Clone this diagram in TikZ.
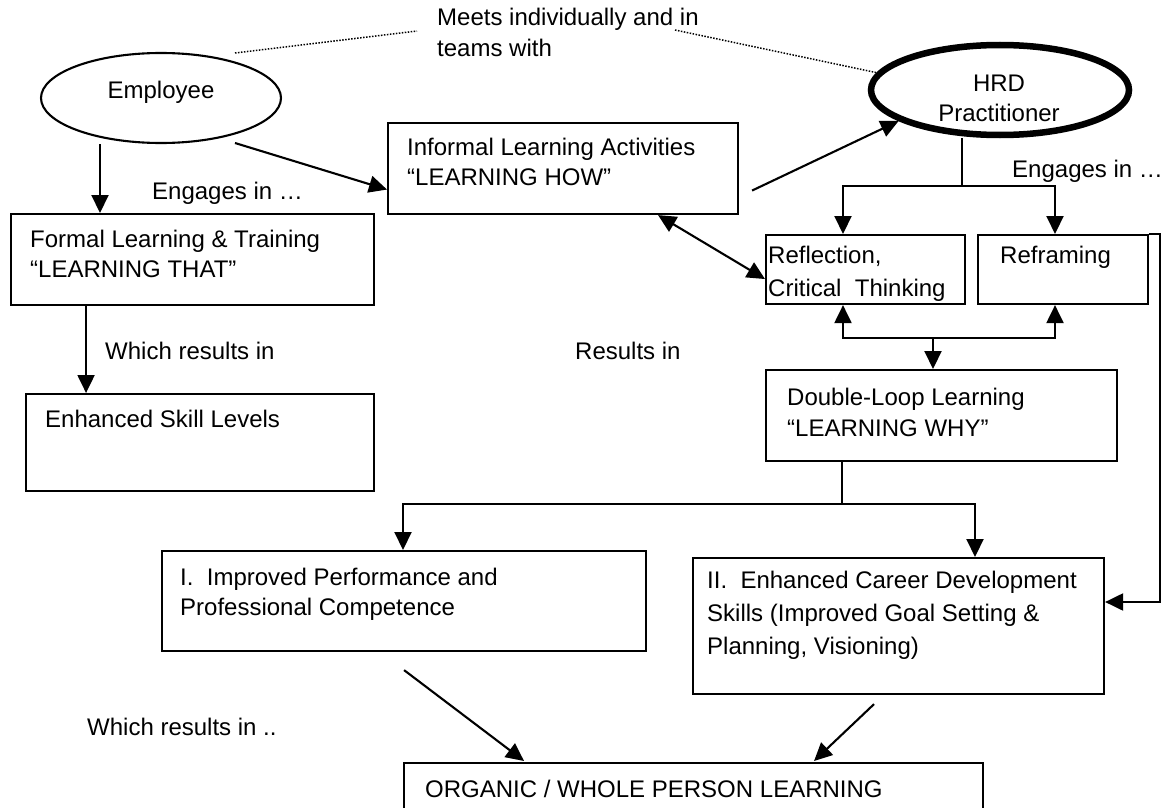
\documentclass[tikz,border=0pt]{standalone}
\usepackage{fontspec}
\setmainfont{Liberation Sans}
\usetikzlibrary{arrows.meta,shapes.geometric}
\newcommand\mylines[1]{\begin{tabular}[t]{@{}l@{}}#1\end{tabular}}
\newcommand\mylinesc[1]{\begin{tabular}[t]{@{}c@{}}#1\end{tabular}}
\begin{document}
\begin{tikzpicture}[x=1pt,y=-1pt,
  every node/.style={font=\fontsize{24}{31}\selectfont, inner sep=0pt},
  box/.style={draw, line width=2.1pt, rectangle, anchor=north west},
  txt/.style={anchor=base west},
  arr/.style={line width=2.1pt, -{Triangle[length=18pt,width=17pt]}},
  dblarr/.style={line width=2.1pt, {Triangle[length=18pt,width=17pt]}-{Triangle[length=18pt,width=17pt]}},
  dotline/.style={line width=1.5pt, dash pattern=on 1.5pt off 1.5pt},
  ln/.style={line width=2.1pt}]
\useasboundingbox (0,0) rectangle (1167,808);
\clip (0,0) rectangle (1167,808);

% ellipses
\node[draw, ellipse, line width=2.1pt, minimum width=240pt, minimum height=90pt] (emp) at (161,98) {};
\node[draw, ellipse, line width=6.5pt, minimum width=258pt, minimum height=90pt] (hrd) at (1000,90) {};

% boxes
\node[box, minimum width=350pt, minimum height=91pt] (inf) at (387,122) {};
\node[box, minimum width=363pt, minimum height=91pt] (form) at (10,213) {};
\node[box, minimum width=348pt, minimum height=97pt] (skill) at (25,393) {};
\node[box, minimum width=199pt, minimum height=69pt] (refl) at (765,234) {};
\node[box, minimum width=170pt, minimum height=69pt] (refr) at (977,234) {};
\node[box, minimum width=351pt, minimum height=91pt] (dbl) at (765,369) {};
\node[box, minimum width=484pt, minimum height=100pt] (perf) at (161,550) {};
\node[box, minimum width=411pt, minimum height=136pt] (car) at (692,557) {};
\node[box, minimum width=579pt, minimum height=70pt] (org) at (403,762) {};

% texts
\node[txt] (tmeets) at (437,26) {\mylines{Meets individually and in\\teams with}};
\node[anchor=base] (temp) at (161,99) {Employee};
\node[anchor=base] (thrd) at (999,92) {\mylinesc{HRD\\[-1pt]Practitioner}};
\node[txt] (tinf) at (407,155) {\mylines{Informal Learning Activities\\[-1pt]“LEARNING HOW”}};
\node[txt] (teng1) at (152,199) {Engages in …};
\node[txt] (tform) at (30,247) {\mylines{Formal Learning \& Training\\[-1pt]“LEARNING THAT”}};
\node[txt] (twhich1) at (105,359) {Which results in};
\node[txt] (tres) at (575,359) {Results in};
\node[txt] (tskill) at (45,427) {Enhanced Skill Levels};
\node[txt] (teng2) at (1012,177) {Engages in …};
\node[txt] (trefl) at (768,263) {\mylines{Reflection,\\[2pt]Critical\ \ Thinking}};
\node[txt] (trefr) at (1000,263) {Reframing};
\node[txt] (tdbl) at (787,405) {\mylines{Double-Loop Learning\\“LEARNING WHY”}};
\node[txt] (tperf) at (180,585) {\mylines{I.\ \ Improved Performance and\\[-1pt]Professional Competence}};
\node[txt] (tcar) at (707,588) {\mylines{II.\ \ Enhanced Career Development\\[2pt]Skills (Improved Goal Setting \&\\[2pt]Planning, Visioning)}};
\node[txt] (twhich2) at (87,735) {Which results in ..};
\node[txt] (torg) at (425,797) {ORGANIC / WHOLE PERSON LEARNING};

% helper coordinates
\coordinate (m1) at (417,31);
\coordinate (m2) at (675,30);
\coordinate (xa) at (843,0);
\coordinate (xb) at (1055,0);
\coordinate (xc) at (403,0);
\coordinate (xd) at (975,0);
\coordinate (j1) at (962,186);
\coordinate (j2) at (933,338);
\coordinate (j3) at (842,504);
\coordinate (j4) at (1160,602);

% dotted lines
\draw[dotline] ([shift={(74,-45)}]emp.center) -- (m1);
\draw[dotline] (m2) -- (hrd.172);

% connectors
\draw[arr] ([xshift=-61pt]emp.south) -- ([xshift=-61pt]emp.south |- form.north);
\draw[arr] ([shift={(74,45)}]emp.center) -- ([yshift=-21pt]inf.west);
\draw[arr] ([shift={(13,22)}]inf.east) -- (hrd.197);
\draw[arr] ([xshift=-106.5pt]form.south) -- ([xshift=-106.5pt]form.south |- skill.north);
\draw[dblarr] ([xshift=95pt]inf.south) -- ([yshift=-9.5pt]refl.west);
\draw[ln] (hrd.south -| j1) -- (j1);
\draw[arr] (j1) -| (xa |- refl.north);
\draw[arr] (j1) -| (xb |- refr.north);
\draw[arr] (j2) -| (xa |- refl.south);
\draw[arr] (j2) -| (xb |- refr.south);
\draw[arr] (j2) -- (j2 |- dbl.north);
\draw[ln] (dbl.south -| j3) -- (j3);
\draw[arr] (j3) -| (xc |- perf.north);
\draw[arr] (j3) -| (xd |- car.north);
\draw[arr] (refr.north east) -| (j4) -- (j4 -| car.east);
\draw[arr] ([yshift=-18pt]perf.south) -- ([shift={(-169.5,-1)}]org.north);
\draw[arr] ([shift={(-24.5,9)}]car.south) -- ([shift={(120.5,-1)}]org.north);
\end{tikzpicture}
\end{document}
